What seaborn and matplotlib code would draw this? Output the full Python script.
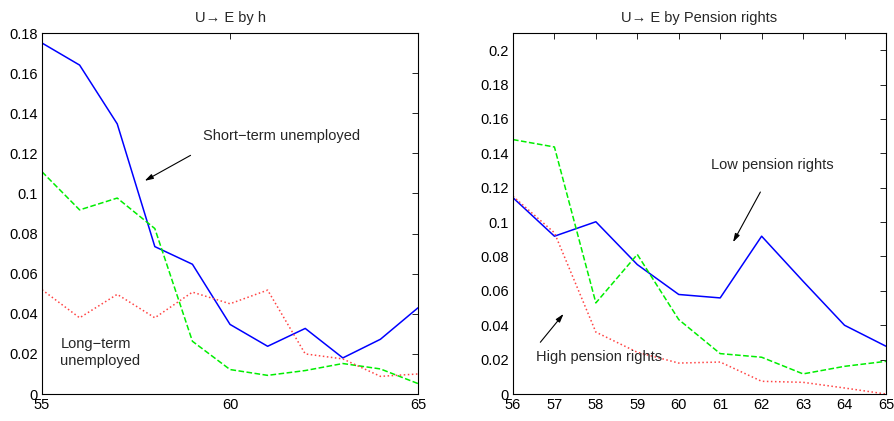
import matplotlib
matplotlib.use("Agg")
import matplotlib.pyplot as plt
import seaborn as sns
import pandas as pd

sns.set_style("white")
plt.rcParams['font.family'] = ['Liberation Sans', 'DejaVu Sans']
plt.rcParams['xtick.direction'] = 'in'
plt.rcParams['ytick.direction'] = 'in'

# Left panel data
ages_h = [55, 56, 57, 58, 59, 60, 61, 62, 63, 64, 65]
short_term = [0.175, 0.164, 0.1347, 0.0735, 0.0647, 0.0347, 0.0238, 0.0327, 0.018, 0.0273, 0.043]
mid_term = [0.1108, 0.0918, 0.0977, 0.0825, 0.0263, 0.0122, 0.0093, 0.0117, 0.0152, 0.0125, 0.0052]
long_term = [0.052, 0.038, 0.0497, 0.038, 0.0508, 0.045, 0.0518, 0.020, 0.0175, 0.0088, 0.010]

# Right panel data
ages_p = [56, 57, 58, 59, 60, 61, 62, 63, 64, 65]
low_pension = [0.1142, 0.0918, 0.1002, 0.0753, 0.0579, 0.0559, 0.0918, 0.0656, 0.040, 0.0278]
mid_pension = [0.148, 0.1437, 0.053, 0.0812, 0.0433, 0.0235, 0.0214, 0.0117, 0.0161, 0.019]
high_pension = [0.115, 0.0938, 0.036, 0.0243, 0.018, 0.0186, 0.0074, 0.0068, 0.0035, 0.0]

left_ticks_x = [55, 60, 65]
left_ticks_y = [0, 0.02, 0.04, 0.06, 0.08, 0.1, 0.12, 0.14, 0.16, 0.18]
right_ticks_y = [0, 0.02, 0.04, 0.06, 0.08, 0.1, 0.12, 0.14, 0.16, 0.18, 0.2]

fig = plt.figure(figsize=(8.94, 4.21), dpi=100)
ax1 = fig.add_axes([0.047, 0.0641, 0.4206, 0.8575])
ax2 = fig.add_axes([0.5738, 0.0641, 0.4172, 0.8575])

styles = [('#0000ff', '-'), ('#00ee00', '--'), ('#ff4444', ':')]

dl = pd.DataFrame({'age': ages_h, 's': short_term, 'm': mid_term, 'l': long_term})
for col, (c, ls) in zip(['s', 'm', 'l'], styles):
    sns.lineplot(data=dl, x='age', y=col, ax=ax1, color=c, linestyle=ls, linewidth=1.1)

dr = pd.DataFrame({'age': ages_p, 'lo': low_pension, 'mi': mid_pension, 'hi': high_pension})
for col, (c, ls) in zip(['lo', 'mi', 'hi'], styles):
    sns.lineplot(data=dr, x='age', y=col, ax=ax2, color=c, linestyle=ls, linewidth=1.1)

fs = 10.5
ax1.set_xlim(55, 65)
ax1.set_ylim(0, 0.18)
ax1.set_xticks(left_ticks_x)
ax1.set_yticks(left_ticks_y)
ax1.set_yticklabels(['0', '0.02', '0.04', '0.06', '0.08', '0.1', '0.12', '0.14', '0.16', '0.18'])
ax1.set_title('U\u2192 E by h', fontsize=fs, pad=8)

ax2.set_xlim(56, 65)
ax2.set_ylim(0, 0.21)
ax2.set_xticks(ages_p)
ax2.set_yticks(right_ticks_y)
ax2.set_yticklabels(['0', '0.02', '0.04', '0.06', '0.08', '0.1', '0.12', '0.14', '0.16', '0.18', '0.2'])
ax2.set_title('U\u2192 E by Pension rights', fontsize=fs, pad=8)

for ax in (ax1, ax2):
    ax.set_xlabel('')
    ax.set_ylabel('')
    for s in ax.spines.values():
        s.set_visible(True)
        s.set_color('black')
        s.set_linewidth(0.8)
    ax.tick_params(axis='both', which='both', direction='in', top=True, right=True,
                   length=4, width=0.6, labelsize=fs, pad=3, colors='black')

arrow = dict(arrowstyle='-|>,head_length=0.5,head_width=0.15', color='black', lw=0.8,
             shrinkA=0, shrinkB=0)
ax1.text(59.28, 0.1285, 'Short\u2212term unemployed', fontsize=fs, va='center', ha='left')
ax1.annotate('', xy=(57.73, 0.1063), xytext=(58.95, 0.119), arrowprops=arrow)
ax1.text(55.49, 0.0208, 'Long\u2212term\nunemployed', fontsize=fs, va='center', ha='left', linespacing=1.3)

ax2.text(60.79, 0.1332, 'Low pension rights', fontsize=fs, va='center', ha='left')
ax2.annotate('', xy=(61.31, 0.0883), xytext=(61.97, 0.1175), arrowprops=arrow)
ax2.text(56.56, 0.0214, 'High pension rights', fontsize=fs, va='center', ha='left')
ax2.annotate('', xy=(57.22, 0.0466), xytext=(56.66, 0.0301), arrowprops=arrow)

fig.savefig('out.png', dpi=100)
